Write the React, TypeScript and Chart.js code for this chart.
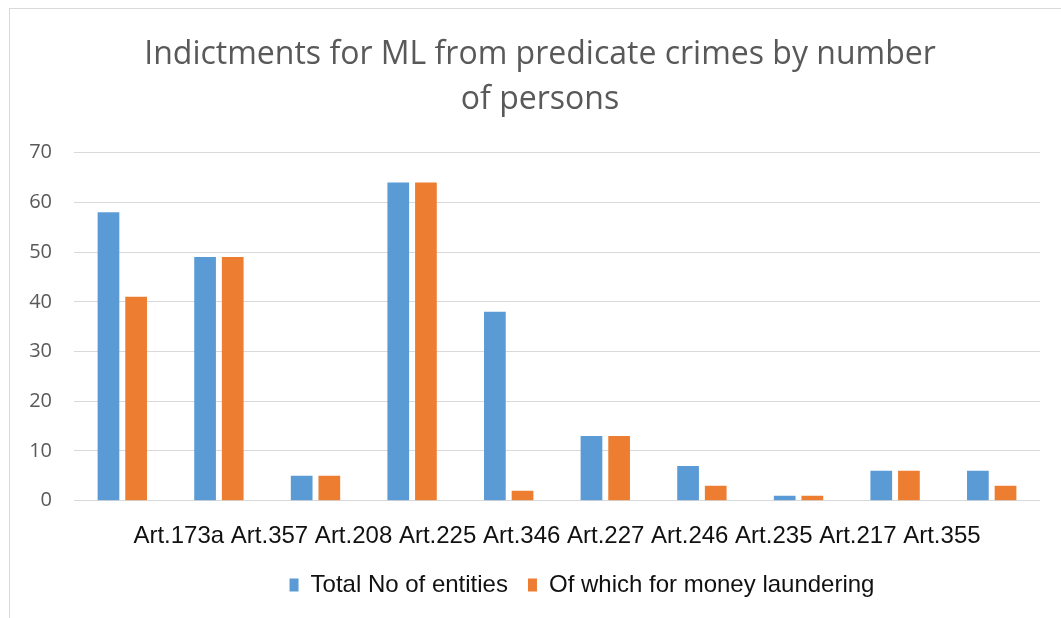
import React, { useEffect, useRef } from "react";
import { Chart, registerables } from "chart.js";

Chart.register(...registerables);

const chartTitle = ["Indictments for ML from predicate crimes by number", "of persons"];
const categories = [
  "Art.173a",
  "Art.357",
  "Art.208",
  "Art.225",
  "Art.346",
  "Art.227",
  "Art.246",
  "Art.235",
  "Art.217",
  "Art.355",
];
const seriesNames = ["Total No of entities", "Of which for money laundering"];
const totalEntities = [58, 49, 5, 64, 38, 13, 7, 1, 6, 6];
const moneyLaundering = [41, 49, 5, 64, 2, 13, 3, 1, 6, 3];
const yTicks = { min: 0, max: 70, step: 10 };

const legendOffset = {
  id: "legendOffset",
  afterLayout(chart: any, _args: any, opts: any) {
    const lg = chart.legend;
    if (lg && opts && opts.dx) {
      lg.left += opts.dx;
      lg.right += opts.dx;
    }
  },
};

export default function App() {
  const canvasRef = useRef<HTMLCanvasElement | null>(null);

  useEffect(() => {
    if (!canvasRef.current) return;
    const chart = new Chart(canvasRef.current, {
      type: "bar",
      data: {
        labels: categories,
        datasets: [
          {
            label: seriesNames[0],
            data: totalEntities,
            backgroundColor: "#5B9BD5",
            borderWidth: 0,
          },
          {
            label: seriesNames[1],
            data: moneyLaundering,
            backgroundColor: "#ED7D31",
            borderWidth: 0,
          },
        ],
      },
      plugins: [legendOffset],
      options: {
        animation: false,
        responsive: true,
        maintainAspectRatio: false,
        datasets: {
          bar: { categoryPercentage: 0.5725, barPercentage: 0.785 },
        },
        layout: { padding: { left: 10, right: 0, top: 0, bottom: 11 } },
        plugins: {
          legendOffset: { dx: 42 },
          tooltip: { enabled: false },
          title: {
            display: true,
            text: chartTitle,
            color: "#595959",
            font: { family: "'Open Sans'", size: 32, weight: "normal", lineHeight: 1.406 },
            padding: { top: 32.5, bottom: 30.2 },
          },
          legend: {
            position: "bottom",
            labels: {
              boxWidth: 9,
              boxHeight: 13,
              padding: 20,
              color: "#111111",
              font: { family: "'Liberation Sans', Arial", size: 24 },
            },
          },
        },
        scales: {
          x: {
            grid: { display: false, drawTicks: false },
            border: { display: false },
            ticks: { display: false },
            title: {
              display: true,
              text: categories.join(" "),
              color: "#111111",
              font: { family: "'Liberation Sans', Arial", size: 24, lineHeight: 1.2 },
              padding: { top: 21.7, bottom: 1.8 },
            },
          },
          y: {
            min: yTicks.min,
            max: yTicks.max,
            afterFit(scale: any) {
              scale.width = 64;
            },
            ticks: {
              stepSize: yTicks.step,
              padding: 22,
              color: "#595959",
              font: { family: "'Open Sans'", size: 20 },
            },
            grid: { color: "#D9D9D9", lineWidth: 1, drawTicks: false },
            border: { display: false },
          },
          yRight: {
            type: "linear",
            position: "right",
            min: 0,
            max: 1,
            afterFit(scale: any) {
              scale.width = 30;
            },
            ticks: { display: false },
            grid: { display: false, drawTicks: false },
            border: { display: false },
          },
        },
      },
    });
    return () => chart.destroy();
  }, []);

  return (
    <div
      style={{
        position: "fixed",
        left: 0,
        top: 0,
        width: 1061,
        height: 618,
        overflow: "hidden",
        background: "#ffffff",
      }}
    >
      <div
        style={{
          position: "absolute",
          left: 9,
          top: 8,
          width: 1200,
          height: 800,
          borderTop: "1.5px solid #D9D9D9",
          borderLeft: "1.5px solid #D9D9D9",
        }}
      />
      <div style={{ position: "absolute", left: 0, top: 0, width: 1070, height: 618 }}>
        <canvas ref={canvasRef} />
      </div>
    </div>
  );
}
